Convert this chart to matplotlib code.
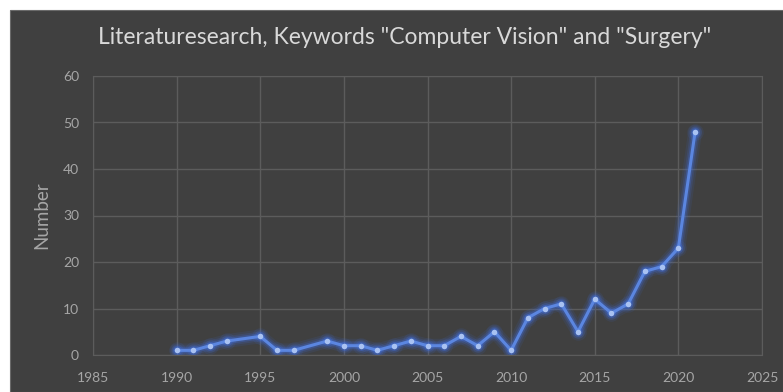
import matplotlib.pyplot as plt
import matplotlib.patches as mpatches

# publication counts per year (1994 and 1998 missing in source)
years = [1990, 1991, 1992, 1993, 1995, 1996, 1997, 1999, 2000, 2001, 2002, 2003, 2004, 2005,
         2006, 2007, 2008, 2009, 2010, 2011, 2012, 2013, 2014, 2015, 2016, 2017, 2018, 2019,
         2020, 2021]
counts = [1, 1, 2, 3, 4, 1, 1, 3, 2, 2, 1, 2, 3, 2,
          2, 4, 2, 5, 1, 8, 10, 11, 5, 12, 9, 11, 18, 19,
          23, 48]
x_ticks = [1985, 1990, 1995, 2000, 2005, 2010, 2015, 2020, 2025]
y_ticks = [0, 10, 20, 30, 40, 50, 60]

plt.rcParams['font.family'] = ['Lato', 'DejaVu Sans']
bg = '#404040'
txt = '#a6a6a6'

fig = plt.figure(figsize=(7.83, 3.92), dpi=100)
fig.patch.set_facecolor('white')
# dark chart panel, offset from the white border
fig.patches.append(mpatches.Rectangle((10 / 783, 0), 773 / 783, 382 / 392,
                                      transform=fig.transFigure, facecolor=bg,
                                      edgecolor='#6a6a6a', linewidth=0.8, zorder=-5))

ax = fig.add_axes([93 / 783, 1 - 355 / 392, (762 - 93) / 783, (355 - 76) / 392])
ax.set_facecolor(bg)
ax.set_xlim(1985, 2025)
ax.set_ylim(0, 60)
ax.set_xticks(x_ticks)
ax.set_yticks(y_ticks)
ax.grid(True, color='#5c5c5c', linewidth=1)
ax.set_axisbelow(True)
for s in ax.spines.values():
    s.set_color('#5c5c5c')
ax.tick_params(length=0, colors=txt, labelsize=10)
ax.tick_params(axis='x', pad=12)
ax.tick_params(axis='y', pad=10)

# glow
for lw, a in [(10, 0.1), (7, 0.16), (4.5, 0.3)]:
    ax.plot(years, counts, color='#3f6fe0', linewidth=lw, alpha=a, solid_capstyle='round',
            solid_joinstyle='round')
    ax.plot(years, counts, 'o', color='#3f6fe0', markersize=lw + 2, alpha=a, markeredgewidth=0)
ax.plot(years, counts, color='#5b86e0', linewidth=2.2, solid_joinstyle='round')
ax.plot(years, counts, 'o', color='#a9c2f2', markersize=4, markeredgewidth=0)

ax.set_ylabel('Number', color=txt, fontsize=13.5, labelpad=9)
fig.text(405 / 783, 1 - 38 / 392, 'Literaturesearch, Keywords "Computer Vision" and "Surgery"',
         ha='center', va='center', color='#d9d9d9', fontsize=16.5)

fig.savefig('out.png', dpi=100, facecolor=fig.get_facecolor())
